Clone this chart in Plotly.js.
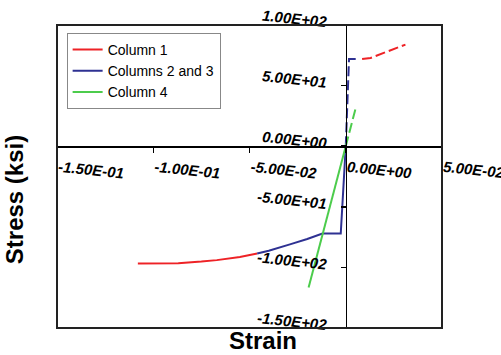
<!DOCTYPE html>
<html>
<head>
<meta charset="utf-8">
<script src="https://cdn.plot.ly/plotly-3.0.1.min.js"></script>
<style>html,body{margin:0;padding:0;background:#fff;}#chart{width:501px;height:355px;}</style>
</head>
<body>
<div id="chart"></div>
<script>
// Column 1 (compression, solid)
const col1CompStrain = [-0.108, -0.095, -0.087, -0.075, -0.067, -0.055, -0.046];
const col1CompStress = [-96.8, -96.7, -96.5, -95.2, -94.0, -91.4, -88.6];
// Column 1 (tension, dashed)
const col1TensStrain = [0.0085, 0.0129, 0.031];
const col1TensStress = [72, 72.8, 83.8];
// Columns 2 and 3 (compression, solid)
const col23CompStrain = [-0.046, -0.040, -0.029, -0.020, -0.0121, -0.0026, 0];
const col23CompStress = [-88.6, -86.2, -81.0, -76.6, -72, -72, 0];
// Columns 2 and 3 (tension, dashed)
const col23TensStrain = [0, 0.0017, 0.0072];
const col23TensStress = [0, 72, 72];
// Column 4
const col4CompStrain = [-0.0193, 0];
const col4CompStress = [-116.6, 0];
const col4TensStrain = [0, 0.0055];
const col4TensStress = [0, 33.5];

const xTickVals = [-0.15, -0.10, -0.05, 0, 0.05];
const xTickText = ['-1.50E-01', '-1.00E-01', '-5.00E-02', '0.00E+00', '5.00E-02'];
const yTickVals = [-150, -100, -50, 0, 50, 100];
const yTickText = ['-1.50E+02', '-1.00E+02', '-5.00E+01', '0.00E+00', '5.00E+01', '1.00E+02'];

const RED = '#ee2226', BLUE = '#2e3192', GREEN = '#4ccc4c';
const FONT = 'Liberation Sans, Arial, sans-serif';

const traces = [
  {x: col1CompStrain, y: col1CompStress, mode: 'lines', name: 'Column 1', legendgroup: 'c1',
   line: {color: RED, width: 2}},
  {x: col23CompStrain, y: col23CompStress, mode: 'lines', name: 'Columns 2 and 3', legendgroup: 'c23',
   line: {color: BLUE, width: 2}},
  {x: col4CompStrain, y: col4CompStress, mode: 'lines', name: 'Column 4', legendgroup: 'c4',
   line: {color: GREEN, width: 2}},
  {x: col1TensStrain, y: col1TensStress, mode: 'lines', name: 'Column 1', legendgroup: 'c1', showlegend: false,
   line: {color: RED, width: 2, dash: '10px,4px'}},
  {x: col23TensStrain, y: col23TensStress, mode: 'lines', name: 'Columns 2 and 3', legendgroup: 'c23', showlegend: false,
   line: {color: BLUE, width: 2, dash: '10px,4px'}},
  {x: col4TensStrain, y: col4TensStress, mode: 'lines', name: 'Column 4', legendgroup: 'c4', showlegend: false,
   line: {color: GREEN, width: 2, dash: '10px,4px'}}
];

const tickFont = {family: FONT, size: 15, color: '#000', weight: 'bold', style: 'italic'};

const layout = {
  width: 501, height: 355,
  margin: {l: 57, r: 59, t: 25, b: 27, pad: 0},
  paper_bgcolor: '#fff', plot_bgcolor: '#fff',
  showlegend: true,
  legend: {x: 0.025, y: 0.974, xanchor: 'left', yanchor: 'top',
    bgcolor: '#fff', bordercolor: '#888', borderwidth: 1,
    font: {family: FONT, size: 14, color: '#000'}, itemwidth: 30, tracegroupgap: 0},
  xaxis: {
    range: [-0.15, 0.05], anchor: 'free', position: 0.6,
    showgrid: false, zeroline: false,
    showline: true, linecolor: '#000', linewidth: 1.5,
    ticks: 'outside', ticklen: 5, tickcolor: '#000', tickwidth: 1.5,
    tickvals: xTickVals, ticktext: xTickText,
    ticklabelposition: 'outside right', ticklabeloverflow: 'allow',
    tickangle: 6, ticklabelstandoff: 6,
    tickfont: tickFont, automargin: false
  },
  yaxis: {
    range: [-150, 100], anchor: 'free', position: 0.75,
    showgrid: false, zeroline: false,
    showline: true, linecolor: '#000', linewidth: 1.5,
    ticks: 'outside', ticklen: 5, tickcolor: '#000', tickwidth: 1.5,
    tickvals: yTickVals, ticktext: yTickText,
    ticklabelposition: 'outside', ticklabeloverflow: 'allow',
    tickangle: 6, ticklabelstandoff: 11, ticklabelshift: -3,
    tickfont: tickFont, automargin: false
  },
  shapes: [
    {type: 'rect', xref: 'paper', yref: 'paper', x0: 0, x1: 1, y0: 0, y1: 1,
     line: {color: '#222', width: 2}, layer: 'above'}
  ],
  annotations: [
    {text: 'Strain', xref: 'paper', yref: 'paper', x: 0.535, y: -0.04, xanchor: 'center', yanchor: 'middle',
     showarrow: false, font: {family: FONT, size: 24, color: '#000', weight: 'bold'}},
    {text: 'Stress (ksi)', xref: 'paper', yref: 'paper', x: -0.11, y: 0.424, xanchor: 'center', yanchor: 'middle',
     textangle: -90, showarrow: false, font: {family: FONT, size: 24, color: '#000', weight: 'bold'}}
  ]
};

Plotly.newPlot('chart', traces, layout, {displayModeBar: false, staticPlot: true});
</script>
</body>
</html>
